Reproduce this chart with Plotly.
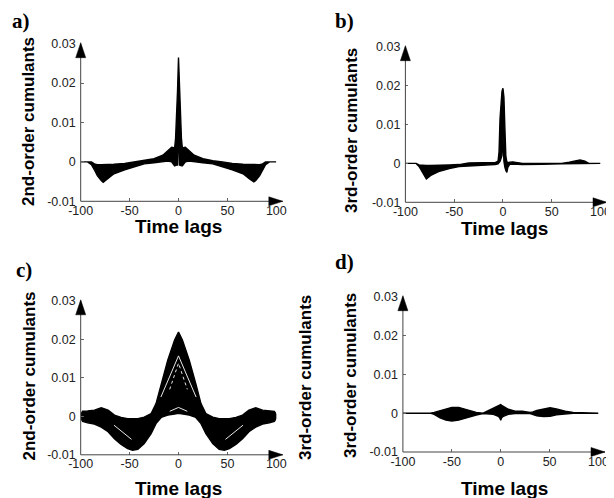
import plotly.graph_objects as go

W, H = 614, 498
PAGE_OFFSET = 8  # the page body margin shifts the figure by 8 px; compensate

# ---------------- data ----------------
x_ticks = [-100, -50, 0, 50, 100]
x_tick_text = ["-100", "-50", "0", "50", "100"]
y_ticks = [-0.01, 0, 0.01, 0.02, 0.03]
y_tick_text = ["-0.01", "0", "0.01", "0.02", "0.03"]

# a) 2nd-order cumulants (envelope of all curves)
a_lags = [-100, -93, -89, -86, -83, -79, -77, -72, -66, -55, -45, -35, -25, -16, -11, -7, -5, -4, -3, -2, -1,
          0,
          1, 2, 3, 4, 5, 7, 11, 16, 25, 35, 45, 55, 66, 72, 77, 79, 83, 86, 89, 93, 100]
a_upper = [0, 0, 0, -0.0005, -0.0007, -0.0007, -0.0007, -0.0007, -0.0006, -0.0004, 0.0, 0.0003, 0.0008, 0.0017,
           0.0029, 0.0037, 0.0036, 0.0034, 0.006, 0.011, 0.018,
           0.0265,
           0.018, 0.011, 0.006, 0.0034, 0.0036, 0.0037, 0.0029, 0.0017, 0.0008, 0.0003, 0.0, -0.0004, -0.0006,
           -0.0007, -0.0007, -0.0007, -0.0007, -0.0005, 0, 0, 0]
a_lower = [0, 0, -0.0007, -0.002, -0.0035, -0.0047, -0.0052, -0.0042, -0.003, -0.002, -0.0012, -0.0005, -0.0002,
           0, 0.0002, 0, -0.0007, -0.001, -0.001, -0.0008, -0.0008,
           0.0108,
           -0.0008, -0.0008, -0.001, -0.001, -0.0007, 0, 0.0002, 0, -0.0002, -0.0005, -0.0012, -0.002, -0.003,
           -0.0042, -0.0051, -0.0047, -0.0035, -0.002, -0.0007, 0, 0]

# b) 3rd-order cumulants
b_lags = [-100, -89, -86, -82, -78.5, -74, -66, -55, -45, -35, -20, -8, -5, -4, -3, -2, -1, 0, 1, 2, 3, 4, 5, 7,
          10, 15, 20, 30, 40, 60, 68, 74, 79, 84, 88, 100]
b_upper = [0, 0, -0.0004, -0.0005, -0.0005, -0.0005, -0.0005, -0.0004, -0.0003, 0.0001, 0.0002, 0.0002, 0.0006,
           0.003, 0.0115, 0.0165, 0.0185, 0.0193, 0.017, 0.009, 0.0018, 0.0004, 0.0002, 0.0003, 0.0004, 0.0002,
           0, 0, 0, 0, 0.0003, 0.0007, 0.0009, 0.0006, 0, 0]
b_lower = [0, 0, -0.0008, -0.0025, -0.004, -0.0031, -0.0021, -0.0013, -0.0008, -0.0006, -0.0004, -0.0003, -0.0001,
           0.0002, 0.0005, 0.001, 0.002, 0.007, 0.0005, -0.001, -0.0018, -0.0023, -0.001, -0.0002, -0.0001,
           -0.0002, -0.0003, -0.0003, -0.0002, -0.0001, -0.0001, 0, 0, 0, 0, 0]

# c) 2nd-order cumulants
c_lags = [-100, -98, -93, -86, -79, -72, -65.5, -58.7, -52, -47, -41.6, -35, -28, -23, -17.7, -11, -4,
          0,
          4, 11, 17.7, 23, 28, 35, 41.6, 47, 52, 58.7, 65.5, 72, 79, 86, 93, 98, 100]
c_upper = [0.0005, 0.0013, 0.0014, 0.0016, 0.0022, 0.0016, 0.0003, -0.0003, -0.0006, -0.0006, -0.0006, -0.0002,
           0.0007, 0.0033, 0.0085, 0.0146, 0.0198,
           0.0219,
           0.0198, 0.0146, 0.0085, 0.0033, 0.0007, -0.0002, -0.0006, -0.0006, -0.0006, -0.0003, 0.0003, 0.0016,
           0.0022, 0.0016, 0.0014, 0.0013, 0.0005]
c_lower = [-0.0005, -0.0013, -0.0017, -0.002, -0.0028, -0.004, -0.0058, -0.0073, -0.0084, -0.0088, -0.0086,
           -0.0071, -0.0045, -0.0019, -0.0003, 0.0003, 0.0006,
           0.0008,
           0.0006, 0.0003, -0.0003, -0.0019, -0.0045, -0.0071, -0.0086, -0.0088, -0.0084, -0.0073, -0.0058, -0.004,
           -0.0028, -0.002, -0.0017, -0.0013, -0.0005]
# light individual curves visible inside the black band of c)
c_white_peak_lags = [-18, 0, 18]
c_white_peak_vals = [0.005, 0.0157, 0.005]
c_white_inner_lags = [-9, 0, 9]
c_white_inner_vals = [0.007, 0.0138, 0.007]
c_white_base_lags = [-9, 0, 9]
c_white_base_vals = [0.0013, 0.0023, 0.0013]
c_white_left_lags = [-66, -48]
c_white_left_vals = [-0.0023, -0.006]
c_white_right_lags = [48, 66]
c_white_right_vals = [-0.006, -0.0023]

# d) 3rd-order cumulants
d_lags = [-100, -72, -68, -62, -56, -50, -43, -34, -25, -18, -14, -7.5, -2.4, -1, 0, 1, 2.7, 7.8, 14.7, 18, 22,
          30, 33, 37, 43.7, 50.5, 57, 66, 74, 100]
d_upper = [0, 0, 0.0002, 0.0007, 0.0012, 0.0015, 0.0015, 0.0009, 0.0002, 0, 0.0005, 0.0012, 0.002, 0.0022,
           0.0022, 0.002, 0.0018, 0.001, 0.0005, 0.0005, 0.0005, 0.0002, 0.0003, 0.0007, 0.0011, 0.0014, 0.0011,
           0.0005, 0.0002, 0]
d_lower = [0, 0, -0.0003, -0.0012, -0.0018, -0.002, -0.0018, -0.0012, -0.0005, -0.0001, -0.0001, -0.0003,
           -0.0008, -0.0012, -0.0018, -0.0012, -0.0008, -0.0003, -0.0001, 0, -0.0001, -0.0001, -0.0004, -0.0007,
           -0.0009, -0.0008, -0.0004, -0.0002, 0, 0]

panel_letters = ["a)", "b)", "c)", "d)"]
y_titles = ["2nd-order cumulants", "3rd-order cumulants", "2nd-order cumulants", "3rd-order cumulants"]
x_title = "Time lags"

# ---------------- layout geometry (pixels in the screenshot) ----------------
# (x of lag -100, x of lag 100, y of 0.03, y of -0.01)
geom = [
    (80.7, 276.3, 43.7, 201.3),
    (405.4, 600.5, 46.7, 202.3),
    (80.7, 276.3, 300.8, 454.8),
    (402.9, 598.5, 296.7, 452.0),
]


def fx(p):
    return (p - PAGE_OFFSET) / W


def fy(p):
    return 1 - (p - PAGE_OFFSET) / H


fig = go.Figure()

envelopes = [(a_lags, a_upper, a_lower), (b_lags, b_upper, b_lower),
             (c_lags, c_upper, c_lower), (d_lags, d_upper, d_lower)]

for i, (lags, up, lo) in enumerate(envelopes):
    sfx = "" if i == 0 else str(i + 1)
    fig.add_trace(go.Scatter(
        x=list(lags) + list(lags)[::-1], y=list(up) + list(lo)[::-1],
        mode="lines", fill="toself", fillcolor="black",
        line=dict(color="black", width=1.4),
        xaxis="x" + sfx, yaxis="y" + sfx, hoverinfo="skip", showlegend=False))

for lx, ly, dash in [(c_white_peak_lags, c_white_peak_vals, "solid"),
                     (c_white_inner_lags, c_white_inner_vals, "dot"),
                     (c_white_base_lags, c_white_base_vals, "solid"),
                     (c_white_left_lags, c_white_left_vals, "solid"),
                     (c_white_right_lags, c_white_right_vals, "solid")]:
    fig.add_trace(go.Scatter(x=lx, y=ly, mode="lines",
                             line=dict(color="#e8e8e8", width=1, dash=dash),
                             xaxis="x3", yaxis="y3", hoverinfo="skip", showlegend=False))

tick_font = dict(family="Liberation Sans, Arial, sans-serif", size=12.5, color="#222")
layout = dict(width=W, height=H, margin=dict(l=0, r=0, t=0, b=0, pad=0, autoexpand=False),
              paper_bgcolor="white", plot_bgcolor="white", showlegend=False)

shapes = []
annotations = []
label_pos = [(21, 21), (344.5, 21), (23.5, 270), (344.5, 262)]
ytitle_pos = [(29, 122), (352, 131), (28.5, 376), (350, 376)]
xtitle_pos = [(178, 227), (504, 229), (178, 488), (504, 488)]

for i, (x0, x1, ytop, ybot) in enumerate(geom):
    sfx = "" if i == 0 else str(i + 1)
    layout["xaxis" + sfx] = dict(
        domain=[fx(x0), fx(x1)], range=[-100, 100], anchor="y" + sfx, automargin=False,
        tickvals=x_ticks, ticktext=x_tick_text, ticks="inside", ticklen=3, tickcolor="#666",
        showline=False, zeroline=False, showgrid=False, tickfont=tick_font, fixedrange=True)
    layout["yaxis" + sfx] = dict(
        domain=[fy(ybot), fy(ytop)], range=[-0.01, 0.03], anchor="x" + sfx, automargin=False,
        tickvals=y_ticks, ticktext=y_tick_text, ticks="inside", ticklen=3, tickcolor="#666",
        showline=False, zeroline=False, showgrid=False, tickfont=tick_font, fixedrange=True,
        ticklabelstandoff=4)
    # axis lines
    shapes.append(dict(type="line", xref="paper", yref="paper",
                       x0=fx(x0), y0=fy(ybot), x1=fx(x0), y1=fy(ytop),
                       line=dict(color="#444", width=1)))
    shapes.append(dict(type="line", xref="paper", yref="paper",
                       x0=fx(x0), y0=fy(ybot), x1=fx(x1 + 6.5), y1=fy(ybot),
                       line=dict(color="#444", width=1)))
    # arrow heads
    tipx = x1 + 6.5
    shapes.append(dict(type="path", xref="paper", yref="paper",
                       path=f"M {fx(tipx)},{fy(ybot)} L {fx(tipx - 14)},{fy(ybot - 4.5)} "
                            f"L {fx(tipx - 14)},{fy(ybot + 4.5)} Z",
                       fillcolor="black", line=dict(color="black", width=0.5)))
    shapes.append(dict(type="path", xref="paper", yref="paper",
                       path=f"M {fx(x0)},{fy(ytop - 1)} L {fx(x0 - 5)},{fy(ytop + 14)} "
                            f"L {fx(x0 + 5)},{fy(ytop + 14)} Z",
                       fillcolor="black", line=dict(color="black", width=0.5)))
    # texts
    lx, ly = label_pos[i]
    annotations.append(dict(text="<b>" + panel_letters[i] + "</b>", xref="paper", yref="paper",
                            x=fx(lx), y=fy(ly), xanchor="center", yanchor="middle", showarrow=False,
                            font=dict(family="Liberation Serif, Times New Roman, serif", size=21, color="black")))
    tx, ty = ytitle_pos[i]
    annotations.append(dict(text="<b>" + y_titles[i] + "</b>", xref="paper", yref="paper",
                            x=fx(tx), y=fy(ty), xanchor="center", yanchor="middle", showarrow=False,
                            textangle=-90,
                            font=dict(family="Liberation Sans, Arial, sans-serif", size=17, color="black")))
    tx, ty = xtitle_pos[i]
    annotations.append(dict(text="<b>" + x_title + "</b>", xref="paper", yref="paper",
                            x=fx(tx), y=fy(ty), xanchor="center", yanchor="middle", showarrow=False,
                            font=dict(family="Liberation Sans, Arial, sans-serif", size=19, color="black")))

# stray duplicate y-label between panels c) and d)
annotations.append(dict(text="<b>" + y_titles[1] + "</b>", xref="paper", yref="paper",
                        x=fx(305), y=fy(378), xanchor="center", yanchor="middle", showarrow=False,
                        textangle=-90,
                        font=dict(family="Liberation Sans, Arial, sans-serif", size=17, color="black")))

layout["shapes"] = shapes
layout["annotations"] = annotations
fig.update_layout(**layout)

fig.write_html("out.html")
